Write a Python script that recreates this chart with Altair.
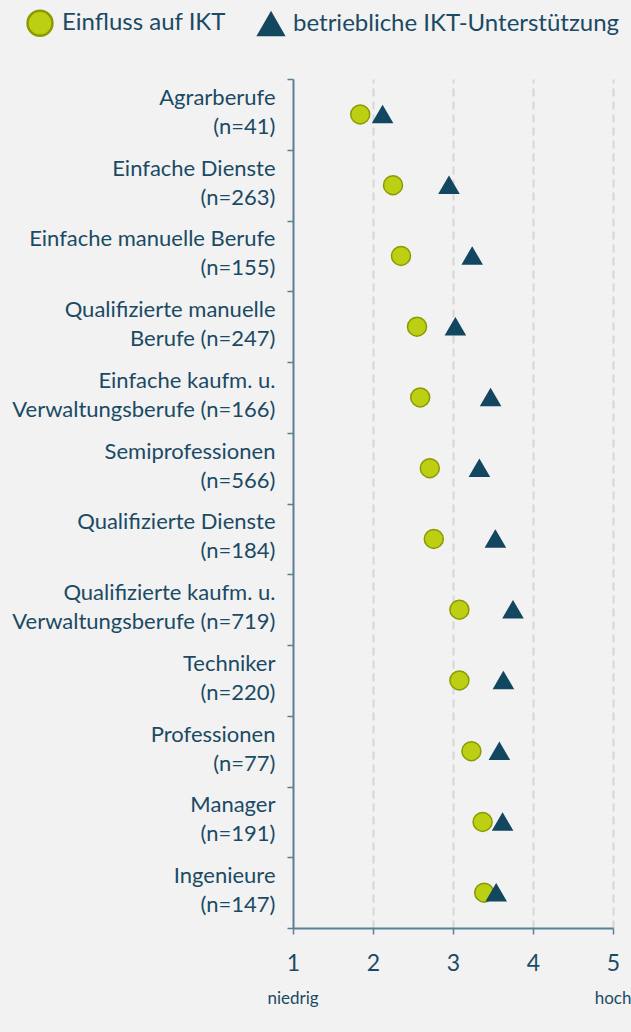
import altair as alt
import pandas as pd

categories = [
    "Agrarberufe|(n=41)",
    "Einfache Dienste|(n=263)",
    "Einfache manuelle Berufe|(n=155)",
    "Qualifizierte manuelle|Berufe (n=247)",
    "Einfache kaufm. u.|Verwaltungsberufe (n=166)",
    "Semiprofessionen|(n=566)",
    "Qualifizierte Dienste|(n=184)",
    "Qualifizierte kaufm. u.|Verwaltungsberufe (n=719)",
    "Techniker|(n=220)",
    "Professionen|(n=77)",
    "Manager|(n=191)",
    "Ingenieure|(n=147)",
]
einfluss = [1.84, 2.25, 2.35, 2.55, 2.59, 2.71, 2.76, 3.08, 3.08, 3.23, 3.37, 3.39]
unterstuetzung = [2.12, 2.95, 3.24, 3.03, 3.47, 3.33, 3.53, 3.75, 3.63, 3.58, 3.62, 3.54]
series_names = ["Einfluss auf IKT", "betriebliche IKT-Unterstützung"]
scale_ends = [1, 5]
scale_end_labels = ["niedrig", "hoch"]

TXT = "#1b4a64"
FONT = "Lato"

rows = []
for c, v in zip(categories, einfluss):
    rows.append({"cat": c, "series": series_names[0], "value": v})
for c, v in zip(categories, unterstuetzung):
    rows.append({"cat": c, "series": series_names[1], "value": v})
df = pd.DataFrame(rows)
df_ends = pd.DataFrame({"pos": scale_ends, "label": scale_end_labels})

xscale = alt.Scale(domain=[1, 5], nice=False, zero=False)


def leg():
    return alt.Legend(orient="none", legendX=-267, legendY=-70,
                      direction="horizontal", columns=2, columnPadding=27,
                      labelFontSize=24, labelColor=TXT, labelFont=FONT, labelLimit=600,
                      symbolSize=620, symbolStrokeWidth=2.5, labelOffset=8)


points = alt.Chart(df).mark_point(filled=True, size=361, strokeWidth=1.5, opacity=1).encode(
    x=alt.X("value:Q", scale=xscale, title=None,
            axis=alt.Axis(values=[1, 2, 3, 4, 5], format="d", grid=True,
                          gridDash=[8, 5], gridColor="#d6d6d6", gridWidth=2,
                          gridOpacity=alt.condition("datum.value == 1", alt.value(0), alt.value(1)),
                          labelFontSize=23, labelPadding=18, tickSize=6, labelFlush=False)),
    y=alt.Y("cat:N", sort=categories, title=None,
            scale=alt.Scale(type="band", paddingInner=0, paddingOuter=0),
            axis=alt.Axis(labelExpr="split(datum.label, '|')", tickBand="extent",
                          labelFontSize=22, labelLineHeight=29, labelPadding=12,
                          labelOffset=-17, labelLimit=400, tickSize=6, grid=False)),
    shape=alt.Shape("series:N", title=None,
                    scale=alt.Scale(domain=series_names, range=["circle", "triangle-up"]),
                    legend=leg()),
    fill=alt.Fill("series:N", title=None,
                  scale=alt.Scale(domain=series_names, range=["#bccf13", "#134760"]),
                  legend=leg()),
    stroke=alt.Stroke("series:N", title=None,
                      scale=alt.Scale(domain=series_names, range=["#8a9a00", "#134760"]),
                      legend=leg()),
)

ends = alt.Chart(df_ends).mark_text(fontSize=17, font=FONT, color=TXT, baseline="middle", align="center").encode(
    x=alt.X("pos:Q", scale=xscale),
    y=alt.value(920),
    text="label:N",
)

chart = alt.layer(points, ends).properties(
    width=320, height=849,
    padding={"left": 293, "top": 79, "right": 18, "bottom": 104},
    autosize=alt.AutoSizeParams(type="none"),
    background="#f2f2f2",
).configure_view(stroke=None).configure_axis(
    domainColor="#5b7f92", tickColor="#5b7f92", domainWidth=2, tickWidth=1.5,
    labelColor=TXT, labelFont=FONT,
)

chart.save("out.html", embed_options={"renderer": "svg", "actions": False})
